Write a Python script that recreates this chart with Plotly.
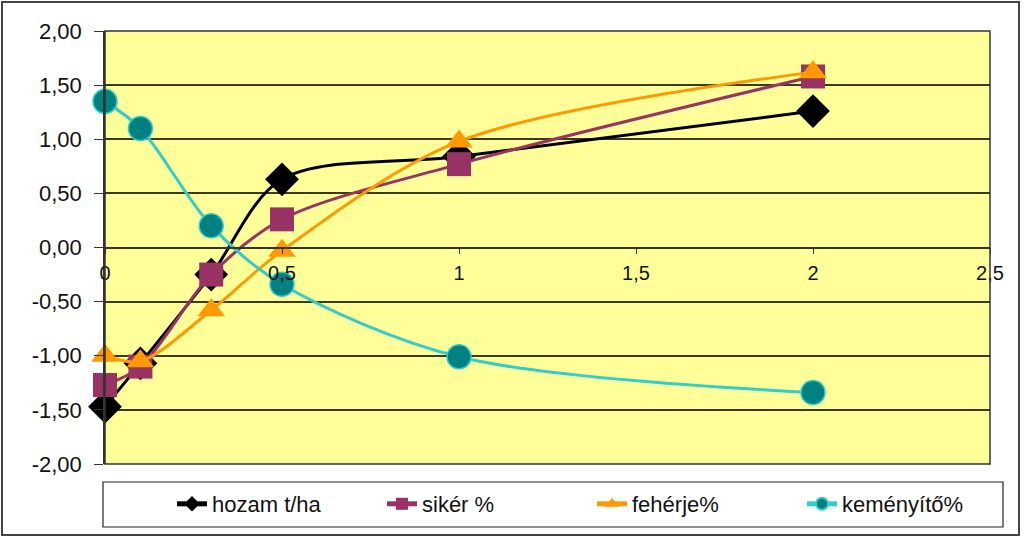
import plotly.graph_objects as go

x_vals = [0, 0.1, 0.3, 0.5, 1, 2]
hozam = [-1.47, -1.07, -0.25, 0.63, 0.84, 1.26]
siker = [-1.27, -1.10, -0.25, 0.26, 0.77, 1.58]
feherje = [-1.00, -1.05, -0.58, -0.03, 0.98, 1.62]
kemenyito = [1.35, 1.10, 0.20, -0.34, -1.01, -1.34]
names = ["hozam t/ha", "sikér %", "fehérje%", "keményítő%"]
y_tickvals = [-2, -1.5, -1, -0.5, 0, 0.5, 1, 1.5, 2]
y_ticktext = ["-2,00", "-1,50", "-1,00", "-0,50", "0,00", "0,50", "1,00", "1,50", "2,00"]

W, H = 1024, 538
ML, MR, MT, MB = 105, 34, 31, 74
PW, PH = W - ML - MR, H - MT - MB

def px_x(p):
    return (p - ML) / PW

def px_y(p):
    return (H - MB - p) / PH

fig = go.Figure()
specs = [
    (hozam, names[0], "black", dict(symbol="diamond", size=26, color="black")),
    (siker, names[1], "#993366", dict(symbol="square", size=24, color="#993366")),
    (feherje, names[2], "#FF9900", dict(symbol="triangle-up", size=24, color="#FF9900")),
    (kemenyito, names[3], "#33CCCC", dict(symbol="circle", size=24, color="#008080",
                                          line=dict(color="#33CCCC", width=1.5))),
]
for ys, nm, lc, mk in specs:
    fig.add_trace(go.Scatter(
        x=x_vals, y=ys, name=nm, mode="lines+markers", cliponaxis=False,
        line=dict(color=lc, width=3, shape="spline", smoothing=0.9),
        marker=mk,
    ))

fig.update_layout(
    width=W, height=H,
    margin=dict(l=ML, r=MR, t=MT, b=MB),
    paper_bgcolor="white",
    plot_bgcolor="#FFFF99",
    separators=", ",
    font=dict(family="Liberation Sans, Arial, sans-serif", size=16, color="#111"),
    showlegend=True,
    legend=dict(orientation="h", x=px_x(172), xanchor="left", y=px_y(504), yanchor="middle",
                font=dict(size=22), entrywidth=165, bgcolor="rgba(0,0,0,0)",
                itemsizing="constant"),
    xaxis=dict(range=[0, 2.5], dtick=0.5, tick0=0, showgrid=False, zeroline=False,
               anchor="free", position=0.5, showline=True, linecolor="#333",
               linewidth=1.5, ticks="outside", ticklen=6, tickcolor="#333",
               tickfont=dict(size=20), ticklabelstandoff=2),
    yaxis=dict(range=[-2, 2], tickvals=y_tickvals, ticktext=y_ticktext, showgrid=True,
               gridcolor="#3a3a20", gridwidth=1.5, zeroline=False, showline=True,
               linecolor="#333", linewidth=1.5, ticks="outside", ticklen=9,
               tickcolor="#333", tickfont=dict(size=22), ticklabelstandoff=8),
    shapes=[
        dict(type="rect", xref="x domain", yref="y domain", x0=0, x1=1, y0=0, y1=1,
             line=dict(color="#333", width=1.5), layer="above"),
        dict(type="rect", xref="paper", yref="paper", x0=px_x(103), x1=px_x(1003),
             y0=px_y(527), y1=px_y(482), line=dict(color="#222", width=1.2)),
        dict(type="rect", xref="paper", yref="paper", x0=px_x(2), x1=px_x(1019),
             y0=px_y(535), y1=px_y(2), line=dict(color="#444", width=2)),
    ],
)

fig.write_html("out.html")
